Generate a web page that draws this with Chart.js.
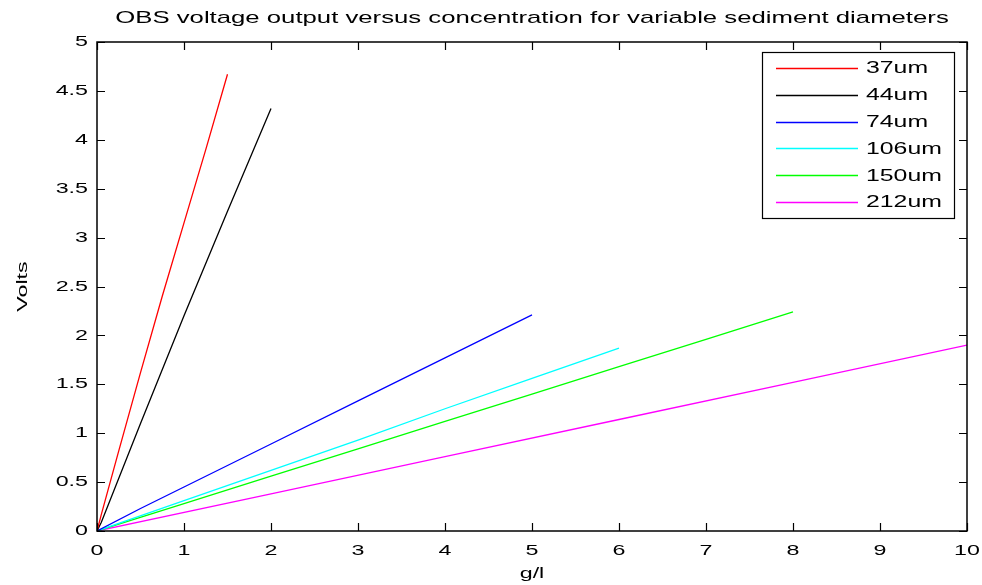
<!DOCTYPE html>
<html>
<head>
<meta charset="utf-8">
<script src="https://cdn.jsdelivr.net/npm/chart.js@4.4.1/dist/chart.umd.min.js"></script>
<style>
  html, body { margin: 0; padding: 0; background: #fff; }
  #wrap { width: 982px; height: 585px; }
</style>
</head>
<body>
<div id="wrap"><canvas id="c" width="982" height="585"></canvas></div>
<script>
// ---- data ----
const seriesLabels = ['37um', '44um', '74um', '106um', '150um', '212um'];
const seriesColors = ['#ff0000', '#000000', '#0000ff', '#00ffff', '#00ff00', '#ff00ff'];

const conc37  = [0, 0.05, 0.25, 0.5, 0.75, 1.0, 1.25, 1.5];
const volts37 = [0, 0.17, 0.82, 1.62, 2.40, 3.15, 3.90, 4.67];

const conc44  = [0, 0.05, 0.5, 1.0, 1.5, 2.0];
const volts44 = [0, 0.09, 1.10, 2.20, 3.27, 4.32];

const conc74  = [0, 0.5, 1, 2, 3, 4, 5];
const volts74 = [0, 0.23, 0.45, 0.89, 1.33, 1.77, 2.21];

const conc106  = [0, 1, 2, 3, 4, 5, 6];
const volts106 = [0, 0.31, 0.62, 0.93, 1.25, 1.56, 1.87];

const conc150  = [0, 1, 2, 3, 4, 5, 6, 7, 8];
const volts150 = [0, 0.28, 0.56, 0.84, 1.12, 1.40, 1.68, 1.96, 2.24];

const conc212  = [0, 2, 4, 6, 8, 10];
const volts212 = [0, 0.38, 0.76, 1.14, 1.52, 1.90];

const xTicks = [0, 1, 2, 3, 4, 5, 6, 7, 8, 9, 10];
const yTicks = [0, 0.5, 1, 1.5, 2, 2.5, 3, 3.5, 4, 4.5, 5];

const titleText = 'OBS voltage output versus concentration for variable sediment diameters';
const xTitle = 'g/l';
const yTitle = 'Volts';

// ---- build datasets ----
const xs = [conc37, conc44, conc74, conc106, conc150, conc212];
const ys = [volts37, volts44, volts74, volts106, volts150, volts212];
const datasets = seriesLabels.map((lab, i) => ({
  label: lab,
  data: xs[i].map((x, j) => ({ x: x, y: ys[i][j] })),
  borderColor: seriesColors[i],
  backgroundColor: seriesColors[i],
  borderWidth: 1.3,
  pointRadius: 0,
  showLine: true,
  tension: 0
}));

const FONT = '"Liberation Sans", Arial, sans-serif';
const STRETCH = 1.55;

// stretch text horizontally (reference glyphs are wide)
const stretchPlugin = {
  id: 'stretch',
  beforeDraw(chart) {
    const ctx = chart.ctx;
    if (!ctx.__patched) {
      const orig = ctx.fillText.bind(ctx);
      ctx.fillText = function (t, x, y, mw) {
        ctx.save();
        ctx.translate(x, y);
        ctx.scale(STRETCH, 1);
        orig(t, 0, 0);
        ctx.restore();
      };
      ctx.__patched = true;
    }
  }
};

const boxPlugin = {
  id: 'box',
  afterDraw(chart) {
    const ctx = chart.ctx;
    const a = chart.chartArea;
    const xs_ = chart.scales.x, ys_ = chart.scales.y;
    const TL = 8;
    ctx.save();
    ctx.strokeStyle = '#000';
    ctx.lineWidth = 1.2;
    ctx.beginPath();
    xTicks.forEach(v => {
      const px = Math.round(xs_.getPixelForValue(v)) + 0.5;
      ctx.moveTo(px, a.bottom); ctx.lineTo(px, a.bottom - TL);
      ctx.moveTo(px, a.top); ctx.lineTo(px, a.top + TL);
    });
    yTicks.forEach(v => {
      const py = Math.round(ys_.getPixelForValue(v)) + 0.5;
      ctx.moveTo(a.left, py); ctx.lineTo(a.left + TL, py);
      ctx.moveTo(a.right, py); ctx.lineTo(a.right - TL, py);
    });
    ctx.stroke();
    ctx.lineWidth = 1.5;
    ctx.strokeRect(a.left, a.top, a.right - a.left, a.bottom - a.top);

    // title
    ctx.fillStyle = '#000';
    ctx.font = '16.6px ' + FONT;
    ctx.textAlign = 'center';
    ctx.textBaseline = 'middle';
    ctx.fillText(titleText, (a.left + a.right) / 2, 18);

    // legend
    const lx = 762, ly = 52, lw = 192, lh = 166;
    ctx.fillStyle = '#fff';
    ctx.fillRect(lx, ly, lw, lh);
    ctx.lineWidth = 1.2;
    ctx.strokeStyle = '#000';
    ctx.strokeRect(lx + 0.5, ly + 0.5, lw, lh);
    ctx.font = '16px ' + FONT;
    ctx.textAlign = 'left';
    ctx.textBaseline = 'middle';
    chart.data.datasets.forEach((ds, i) => {
      const y = 68 + i * 26.8;
      ctx.strokeStyle = ds.borderColor;
      ctx.lineWidth = 1.3;
      ctx.beginPath();
      ctx.moveTo(776, Math.round(y) + 0.5);
      ctx.lineTo(858, Math.round(y) + 0.5);
      ctx.stroke();
      ctx.fillStyle = '#000';
      ctx.fillText(ds.label, 866, y + 1);
    });
    ctx.restore();
  }
};

new Chart(document.getElementById('c'), {
  type: 'scatter',
  data: { datasets: datasets },
  options: {
    responsive: false,
    animation: false,
    layout: { padding: { top: 42, right: 15, left: 0, bottom: 0 } },
    plugins: { legend: { display: false }, title: { display: false }, tooltip: { enabled: false } },
    scales: {
      x: {
        type: 'linear', min: 0, max: 10,
        afterFit(s) { s.height = 54; s.paddingLeft = 0; s.paddingRight = 0; },
        afterBuildTicks(s) { s.ticks = xTicks.map(v => ({ value: v })); },
        grid: { display: false, drawTicks: false },
        border: { display: false },
        ticks: { color: '#000', padding: 11, font: { family: FONT, size: 15 }, maxRotation: 0, callback: v => String(v) },
        title: { display: true, text: xTitle, color: '#000', font: { family: FONT, size: 15 }, padding: { top: 0, bottom: 2 } }
      },
      y: {
        type: 'linear', min: 0, max: 5,
        afterFit(s) { s.width = 97; s.paddingTop = 0; s.paddingBottom = 0; },
        afterBuildTicks(s) { s.ticks = yTicks.map(v => ({ value: v })); },
        grid: { display: false, drawTicks: false },
        border: { display: false },
        ticks: { color: '#000', padding: 9, font: { family: FONT, size: 15 }, callback: v => String(v) },
        title: { display: true, text: yTitle, color: '#000', font: { family: FONT, size: 15 }, padding: { top: 14, bottom: 0 } }
      }
    }
  },
  plugins: [stretchPlugin, boxPlugin]
});
</script>
</body>
</html>
